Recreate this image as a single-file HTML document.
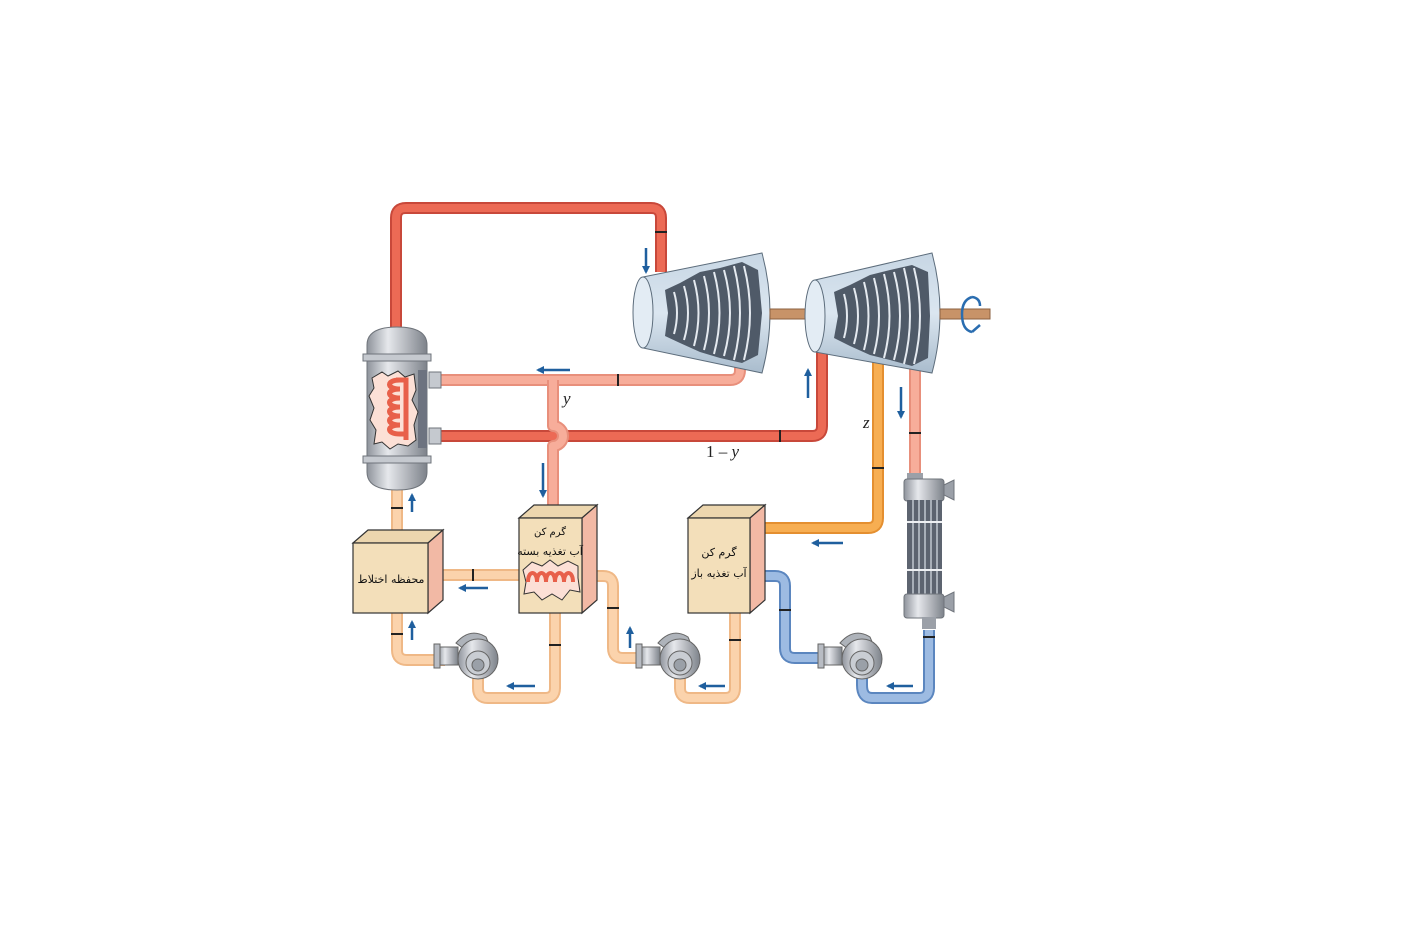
<!DOCTYPE html>
<html><head><meta charset="utf-8"><style>
html,body{margin:0;padding:0;background:#fff;}
svg{display:block;}
.t{font-family:"Liberation Serif",serif;font-style:italic;font-size:17px;fill:#222;}
.fa{font-family:"DejaVu Sans","Noto Sans CJK SC",sans-serif;font-size:11px;fill:#111;direction:rtl;unicode-bidi:embed;}
</style></head><body>
<svg width="1419" height="932" viewBox="0 0 1419 932" xmlns="http://www.w3.org/2000/svg">
<defs>
<linearGradient id="cyl" x1="0" x2="1"><stop offset="0" stop-color="#8e939b"/><stop offset=".35" stop-color="#e6e8ec"/><stop offset="1" stop-color="#7d828a"/></linearGradient>
<linearGradient id="tb" x1="0" y1="0" x2="0" y2="1"><stop offset="0" stop-color="#c7d6e4"/><stop offset=".5" stop-color="#dbe6f0"/><stop offset="1" stop-color="#a9bccd"/></linearGradient>
<marker id="ah" markerWidth="8" markerHeight="8" refX="6" refY="4" orient="auto" markerUnits="userSpaceOnUse"><path d="M0,0 L8,4 L0,8 z" fill="#1f5f9e"/></marker>
<g id="pump">
<rect x="-32" y="-8" width="20" height="18" fill="url(#cyl)" stroke="#666" stroke-width="1"/>
<rect x="-36" y="-11" width="6" height="24" fill="#b8bcc3" stroke="#666"/>
<path d="M-14,-12 Q0,-28 16,-18 L22,-4 L8,4 z" fill="#aeb3ba" stroke="#666"/>
<circle cx="8" cy="4" r="20" fill="url(#cyl)" stroke="#666"/>
<circle cx="8" cy="8" r="12" fill="#c9cdd3" stroke="#666"/>
<circle cx="8" cy="10" r="6" fill="#9aa0a8" stroke="#666"/>
</g>
</defs>

<g fill="none" stroke-linecap="butt" stroke-linejoin="round">
<path d="M396,330 V218 Q396,208 406,208 H651 Q661,208 661,218 V272" stroke="#c8483a" stroke-width="12"/>
<path d="M396,330 V218 Q396,208 406,208 H651 Q661,208 661,218 V272" stroke="#ec6a55" stroke-width="8"/>
<path d="M430,380 H730 Q740,380 740,370 V360" stroke="#e88f7b" stroke-width="12"/>
<path d="M430,380 H730 Q740,380 740,370 V360" stroke="#f7ad9a" stroke-width="8"/>
<path d="M430,436 H812 Q822,436 822,426 V345" stroke="#c8483a" stroke-width="12"/>
<path d="M430,436 H812 Q822,436 822,426 V345" stroke="#ec6a55" stroke-width="8"/>
<path d="M553,380 V426 A9,9 0 0 1 553,446 V510" stroke="#e88f7b" stroke-width="12"/>
<path d="M553,380 V426 A9,9 0 0 1 553,446 V510" stroke="#f7ad9a" stroke-width="8"/>
<path d="M878,360 V518 Q878,528 868,528 H760" stroke="#e48f30" stroke-width="12"/>
<path d="M878,360 V518 Q878,528 868,528 H760" stroke="#f7ae52" stroke-width="8"/>
<path d="M915,365 V475" stroke="#e88f7b" stroke-width="12"/>
<path d="M915,365 V475" stroke="#f7ad9a" stroke-width="8"/>
<path d="M929,630 V688 Q929,698 919,698 H872 Q862,698 862,685 V672" stroke="#5b86bf" stroke-width="12"/>
<path d="M929,630 V688 Q929,698 919,698 H872 Q862,698 862,685 V672" stroke="#9dbbe2" stroke-width="8"/>
<path d="M830,658 H795 Q785,658 785,648 V586 Q785,576 775,576 H760" stroke="#5b86bf" stroke-width="12"/>
<path d="M830,658 H795 Q785,658 785,648 V586 Q785,576 775,576 H760" stroke="#9dbbe2" stroke-width="8"/>
<g stroke="#efb886" stroke-width="12">
<path d="M397,490 V535"/>
<path d="M397,610 V650 Q397,660 407,660 H445"/>
<path d="M478,672 V688 Q478,698 488,698 H545 Q555,698 555,688 V610"/>
<path d="M435,575 H520"/>
<path d="M592,576 H603 Q613,576 613,586 V648 Q613,658 623,658 H645"/>
<path d="M680,672 V688 Q680,698 690,698 H725 Q735,698 735,688 V610"/>
</g>
<g stroke="#fbd3ac" stroke-width="8">
<path d="M397,490 V535"/>
<path d="M397,610 V650 Q397,660 407,660 H445"/>
<path d="M478,672 V688 Q478,698 488,698 H545 Q555,698 555,688 V610"/>
<path d="M435,575 H520"/>
<path d="M592,576 H603 Q613,576 613,586 V648 Q613,658 623,658 H645"/>
<path d="M680,672 V688 Q680,698 690,698 H725 Q735,698 735,688 V610"/>
</g>
<g stroke="#222" stroke-width="2">
<path d="M655,232 H667"/><path d="M618,374 V386"/><path d="M780,430 V442"/>
<path d="M872,468 H884"/><path d="M909,433 H921"/><path d="M923,637 H935"/>
<path d="M391,508 H403"/><path d="M391,634 H403"/><path d="M473,569 V581"/>
<path d="M549,645 H561"/><path d="M607,608 H619"/><path d="M729,640 H741"/>
<path d="M779,610 H791"/>
</g>
</g>

<g>
<path d="M367,345 Q367,327 397,327 Q427,327 427,345 V472 Q427,490 397,490 Q367,490 367,472 z" fill="url(#cyl)" stroke="#6f747b"/>
<rect x="363" y="354" width="68" height="7" fill="#c5c9cf" stroke="#6f747b"/>
<rect x="363" y="456" width="68" height="7" fill="#c5c9cf" stroke="#6f747b"/>
<rect x="418" y="370" width="9" height="78" fill="#6d7380"/>
<rect x="429" y="372" width="12" height="16" fill="#c5c9cf" stroke="#6f747b"/>
<rect x="429" y="428" width="12" height="16" fill="#c5c9cf" stroke="#6f747b"/>
<path d="M372,378 L382,372 L388,376 L398,371 L405,377 L414,374 L416,390 L412,400 L418,412 L414,425 L416,440 L408,446 L398,444 L390,449 L382,442 L374,444 L376,430 L370,420 L374,408 L369,396 L374,388 z" fill="#fce0d6" stroke="#333"/>
<path d="M396,380 h10 v60 M400,380 c-14,0 -14,9 0,9 c-14,0 -14,9 0,9 c-14,0 -14,9 0,9 c-14,0 -14,9 0,9 c-14,0 -14,9 0,9 c-14,0 -14,9 0,9 h6" fill="none" stroke="#e8604a" stroke-width="5"/>
</g>

<g>
<path d="M643,277 L762,253 Q778,313 762,373 L643,348 z" fill="url(#tb)" stroke="#5d6d7c"/>
<ellipse cx="643" cy="312.5" rx="10" ry="35.5" fill="#e3ecf4" stroke="#5d6d7c"/>
<path d="M665,290 L680,283 L700,272 L720,268 L742,262 L758,270 L762,313 L758,355 L742,363 L720,358 L700,352 L680,343 L665,336 L668,313 z" fill="#4f5a68"/>
<g stroke="#e5eaf0" stroke-width="2" fill="none">
<path d="M674,292 Q680,313 674,334"/><path d="M684,286 Q692,313 684,340"/><path d="M694,280 Q703,313 694,346"/><path d="M704,276 Q714,313 704,350"/><path d="M714,272 Q725,313 714,354"/><path d="M724,270 Q736,313 724,356"/><path d="M734,266 Q746,313 734,360"/><path d="M744,266 Q756,313 744,360"/>
</g>
<rect x="770" y="309" width="48" height="10" fill="#c89368" stroke="#8b6040"/>
<path d="M815,280 L932,253 Q948,313 932,373 L815,352 z" fill="url(#tb)" stroke="#5d6d7c"/>
<ellipse cx="815" cy="316" rx="10" ry="36" fill="#e3ecf4" stroke="#5d6d7c"/>
<path d="M834,292 L850,285 L870,275 L890,270 L912,265 L928,272 L930,316 L928,358 L912,366 L890,360 L870,355 L850,346 L834,338 L838,316 z" fill="#4f5a68"/>
<g stroke="#e5eaf0" stroke-width="2" fill="none">
<path d="M844,294 Q850,316 844,338"/><path d="M854,288 Q862,316 854,344"/><path d="M864,282 Q873,316 864,350"/><path d="M874,278 Q884,316 874,354"/><path d="M884,274 Q895,316 884,358"/><path d="M894,272 Q906,316 894,360"/><path d="M904,268 Q916,316 904,364"/><path d="M914,268 Q926,316 914,364"/>
</g>
<rect x="940" y="309" width="50" height="10" fill="#c89368" stroke="#8b6040"/>
<path d="M972,297 Q962,300 962,314 Q962,330 972,332" fill="none" stroke="#2a6db0" stroke-width="2.5"/>
<path d="M972,297 Q980,298 980,306" fill="none" stroke="#2a6db0" stroke-width="2.5"/>
<path d="M972,332 L980,325" stroke="#2a6db0" stroke-width="2.5" fill="none"/>
</g>

<g>
<rect x="907" y="473" width="16" height="8" fill="#9ba0a8"/>
<rect x="904" y="479" width="40" height="22" rx="3" fill="url(#cyl)" stroke="#6f747b"/>
<rect x="907" y="500" width="35" height="96" fill="#5d6470"/>
<g stroke="#c2c8d0" stroke-width="1.5"><path d="M913,500 V596"/><path d="M919,500 V596"/><path d="M925,500 V596"/><path d="M931,500 V596"/><path d="M937,500 V596"/></g>
<path d="M907,522 H942 M907,570 H942" stroke="#eef0f3" stroke-width="2"/>
<rect x="904" y="594" width="40" height="24" rx="3" fill="url(#cyl)" stroke="#6f747b"/>
<path d="M944,485 L954,480 V500 L944,495 z M944,597 L954,592 V612 L944,607 z" fill="#9ba0a8" stroke="#6f747b"/>
<rect x="922" y="617" width="14" height="12" fill="#9ba0a8"/>
</g>

<g stroke="#333" stroke-width="1.2">
<path d="M353,543 L368,530 H443 L428,543 z" fill="#ecd6ae"/>
<path d="M428,543 L443,530 V600 L428,613 z" fill="#f2b9a5"/>
<rect x="353" y="543" width="75" height="70" fill="#f3dfba"/>
<path d="M519,518 L534,505 H597 L582,518 z" fill="#ecd6ae"/>
<path d="M582,518 L597,505 V600 L582,613 z" fill="#f2b9a5"/>
<rect x="519" y="518" width="63" height="95" fill="#f3dfba"/>
<path d="M688,518 L703,505 H765 L750,518 z" fill="#ecd6ae"/>
<path d="M750,518 L765,505 V600 L750,613 z" fill="#f2b9a5"/>
<rect x="688" y="518" width="62" height="95" fill="#f3dfba"/>
</g>
<path d="M523,570 L532,562 L542,566 L550,560 L558,566 L568,561 L578,566 L578,578 L580,592 L570,590 L562,600 L552,594 L542,600 L534,592 L524,594 L526,582 z" fill="#fce0d6" stroke="#333"/>
<path d="M528,582 c0,-12 9,-12 9,0 c0,-12 9,-12 9,0 c0,-12 9,-12 9,0 c0,-12 9,-12 9,0 c0,-12 9,-12 9,0" fill="none" stroke="#e8604a" stroke-width="4"/>

<text x="391" y="583" text-anchor="middle" class="fa" direction="rtl">محفظه اختلاط</text>
<text x="550" y="535" text-anchor="middle" class="fa" direction="rtl" style="font-size:10px">گرم کن</text>
<text x="550" y="555" text-anchor="middle" class="fa" direction="rtl">آب تغذیه بسته</text>
<text x="719" y="556" text-anchor="middle" class="fa" direction="rtl">گرم کن</text>
<text x="719" y="577" text-anchor="middle" class="fa" direction="rtl">آب تغذیه باز</text>

<use href="#pump" x="470" y="655"/>
<use href="#pump" x="672" y="655"/>
<use href="#pump" x="854" y="655"/>

<text x="563" y="404" class="t">y</text>
<text x="706" y="457" class="t" style="font-style:normal">1 – <tspan font-style="italic">y</tspan></text>
<text x="863" y="428" class="t">z</text>

<g stroke="#1f5f9e" stroke-width="2.5" marker-end="url(#ah)">
<path d="M646,248 V272"/><path d="M570,370 H538"/><path d="M543,463 V496"/>
<path d="M808,398 V370"/><path d="M901,387 V417"/>
<path d="M412,512 V495"/><path d="M412,640 V622"/><path d="M488,588 H460"/>
<path d="M535,686 H508"/><path d="M630,648 V628"/><path d="M725,686 H700"/>
<path d="M843,543 H813"/><path d="M913,686 H888"/>
</g>
</svg>
</body></html>
